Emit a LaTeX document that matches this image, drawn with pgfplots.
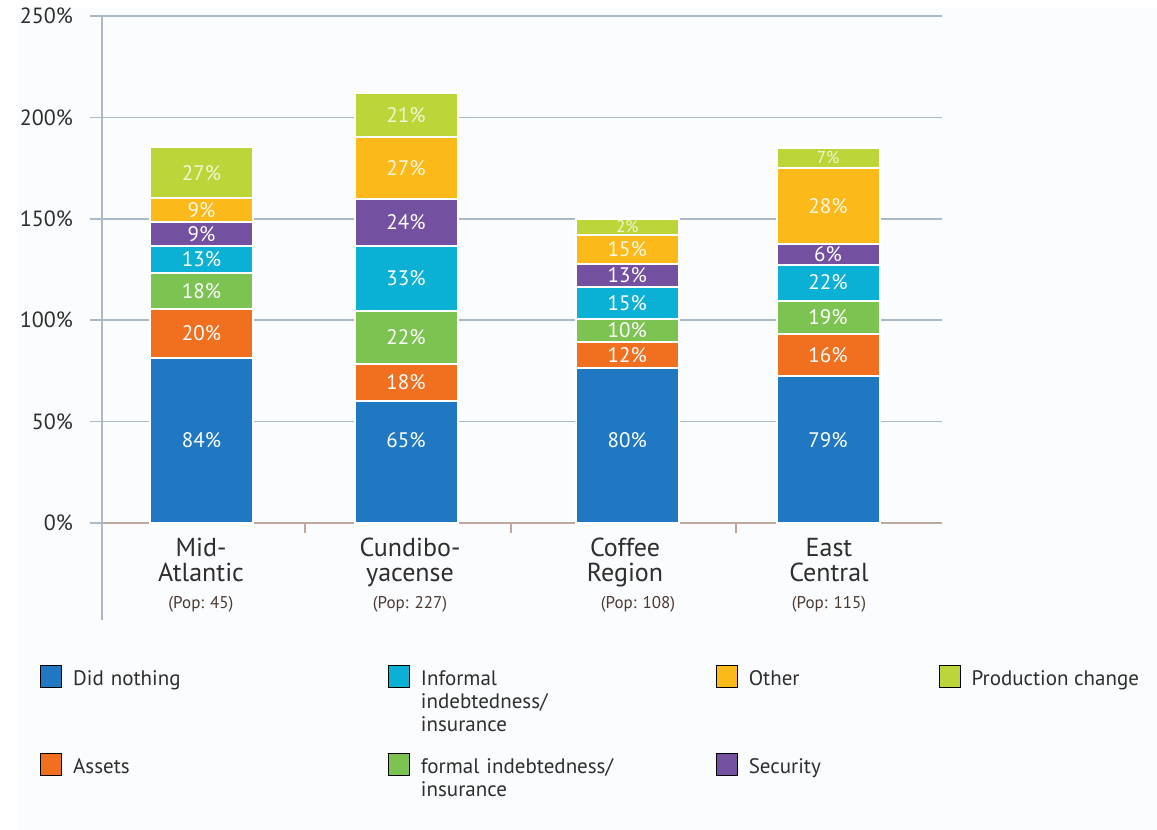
\documentclass[border=0pt]{standalone}
\usepackage{pgfplots}
\pgfplotsset{compat=1.18}
\usepackage{pgfplotstable}
\usepackage{fontspec}
\setmainfont{PT Sans}

\definecolor{cBlue}{HTML}{1F78C1}
\definecolor{cOrange}{HTML}{F07020}
\definecolor{cGreen}{HTML}{7DC352}
\definecolor{cCyan}{HTML}{0BB0D5}
\definecolor{cPurple}{HTML}{7450A0}
\definecolor{cYellow}{HTML}{FBB91A}
\definecolor{cLime}{HTML}{BCD63A}
\definecolor{gridc}{HTML}{A9B9C6}
\definecolor{yaxc}{HTML}{AEB8C2}
\definecolor{xaxc}{HTML}{BCA89E}
\definecolor{labc}{HTML}{2E2E2E}
\definecolor{popc}{HTML}{4A3A32}
\definecolor{bgc}{HTML}{FBFCFD}

% segment heights (measured) and printed labels; dnoff = label offset in the blue segment,
% prfs = label font size in the top segment
\pgfplotstableread{
x     dn   dnl dnoff as   asl fo   fol in   inl se   sel ot   otl pr   prl prfs
201.5 81.4 84  0.4   24.3 20  17.6 18  13.2 13  11.8 9   11.8 9   25.2 27  10.5
406   60.0 65  11.1  18.6 18  25.8 22  32.4 33  23.0 24  30.6 27  21.7 21  10.5
627.3 76.5 80  2.85  12.8 12  11.5 10  15.4 15  11.7 13  14.3 15  7.8  2   8.5
828   72.3 79  4.95  21.1 16  16.3 19  17.7 22  10.2 6   37.5 28  9.9  7   8.5
}\datatable

\newcommand{\popfont}{\fontsize{8.5}{9}\selectfont\color{popc}}

\begin{document}
\begin{tikzpicture}
\fill[white] (0,0) rectangle (578.5pt,415pt);
\fill[bgc] (8.5pt,0) rectangle (578.5pt,411pt);
\path[use as bounding box] (0,0) rectangle (578.5pt,415pt);
\begin{axis}[
  at={(51pt,153.5pt)}, anchor=south west,
  scale only axis, width=420pt, height=253.5pt,
  xmin=102, xmax=942, ymin=0, ymax=250,
  clip=false,
  ybar stacked, bar width=103,
  axis lines*=left,
  x axis line style={draw=xaxc, line width=0.8pt},
  y axis line style={draw=yaxc, line width=1.2pt, shorten <=-48.5pt},
  ymajorgrids, grid style={draw=gridc, line width=0.8pt},
  ytick={0,50,...,250},
  yticklabel={\pgfmathprintnumber{\tick}\%},
  /pgf/number format/assume math mode=true,
  yticklabel style={font=\fontsize{11}{12}\selectfont, text=labc, xshift=-5pt},
  tick align=outside,
  major tick length=6pt,
  ytick style={draw=gridc, line width=0.8pt},
  xtick={201,410,625,829},
  major x tick style={draw=none},
  minor xtick={305,511,736},
  minor tick length=5pt,
  minor x tick style={draw=xaxc, line width=0.8pt},
  xticklabels={
    {Mid-\\Atlantic\\[1pt]{\popfont (Pop: 45)}},
    {Cundibo-\\yacense\\[1pt]{\popfont (Pop: 227)}},
    {Coffee\\Region\\[1pt]{\hspace*{13pt}\popfont (Pop: 108)}},
    {East\\Central\\[1pt]{\popfont (Pop: 115)}}},
  xticklabel style={align=center, font=\fontsize{13}{12.5}\selectfont, text=labc, anchor=north, yshift=2pt},
  every node near coord/.append style={font=\fontsize{10.5}{12}\selectfont, text=white, anchor=center},
  point meta=explicit symbolic,
  nodes near coords={\pgfplotspointmeta\%},
  legend columns=4,
  legend cell align=left,
  legend image code/.code={\fill[#1] (0pt,-1pt) rectangle (10.5pt,10pt);},
  legend style={at={(axis description cs:-0.0738,-0.28)}, anchor=north west,
    draw=none, fill=none, inner sep=0pt,
    font=\fontsize{10.5}{11.5}\selectfont, text=labc,
    cells={anchor=base west},
    row sep=30pt,
    /tikz/every odd column/.append style={column sep=5.5pt},
    /tikz/every even column/.append style={column sep=0pt},
    /tikz/column 2/.style={nodes={text width=157.5pt, align=left, inner xsep=0pt}},
    /tikz/column 4/.style={nodes={text width=147.5pt, align=left, inner xsep=0pt}},
    /tikz/column 6/.style={nodes={text width=95pt, align=left, inner xsep=0pt}},
    /tikz/column 8/.style={nodes={inner xsep=0pt}},
  },
]
\addplot[fill=cBlue, draw=white, line width=1pt, forget plot,
  visualization depends on={\thisrow{dnoff}\as\dnoff},
  every node near coord/.append style={shift={(axis direction cs:0,\dnoff)}}]
  table[x=x, y=dn, meta=dnl]{\datatable};
\addplot[fill=cOrange, draw=white, line width=1pt, forget plot] table[x=x, y=as, meta=asl]{\datatable};
\addplot[fill=cGreen, draw=white, line width=1pt, forget plot] table[x=x, y=fo, meta=fol]{\datatable};
\addplot[fill=cCyan, draw=white, line width=1pt, forget plot] table[x=x, y=in, meta=inl]{\datatable};
\addplot[fill=cPurple, draw=white, line width=1pt, forget plot] table[x=x, y=se, meta=sel]{\datatable};
\addplot[fill=cYellow, draw=white, line width=1pt, forget plot,
  every node near coord/.append style={text=white!88!cYellow}] table[x=x, y=ot, meta=otl]{\datatable};
\addplot[fill=cLime, draw=white, line width=1pt, forget plot,
  visualization depends on={\thisrow{prfs}\as\prfs},
  every node near coord/.append style={text=white!78!cLime, font=\fontsize{\prfs}{12}\selectfont}]
  table[x=x, y=pr, meta=prl]{\datatable};

\addlegendimage{fill=cBlue}\addlegendentry{Did nothing}
\addlegendimage{fill=cCyan}\addlegendentry{Informal\\indebtedness/\\insurance}
\addlegendimage{fill=cYellow}\addlegendentry{Other}
\addlegendimage{fill=cLime}\addlegendentry{Production change}
\addlegendimage{fill=cOrange}\addlegendentry{Assets}
\addlegendimage{fill=cGreen}\addlegendentry{formal indebtedness/\\insurance}
\addlegendimage{fill=cPurple}\addlegendentry{Security}
\end{axis}
\end{tikzpicture}
\end{document}
